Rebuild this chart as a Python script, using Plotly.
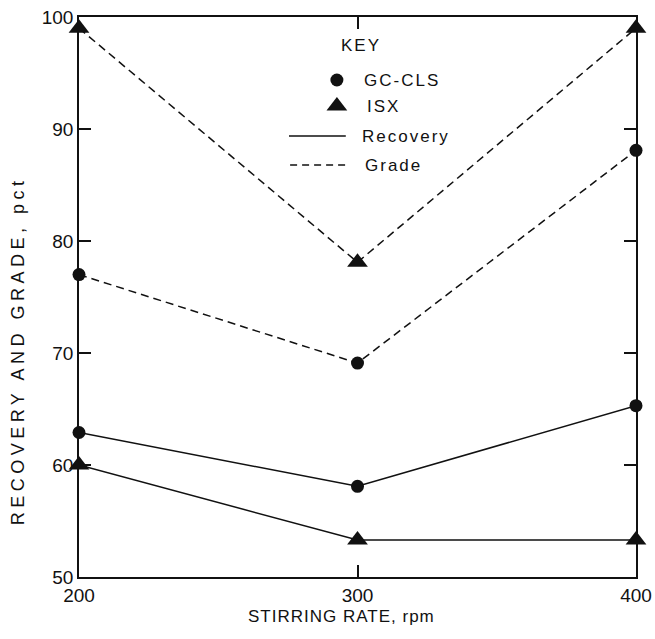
import plotly.graph_objects as go

# Stirring rate (rpm)
stirring_rate = [200, 300, 400]

# Recovery and grade, pct
gc_cls_recovery = [62.9, 58.1, 65.3]
gc_cls_grade = [77.0, 69.1, 88.1]
isx_recovery = [60.0, 53.3, 53.3]
isx_grade = [99.0, 78.1, 99.0]

x_ticks = [200, 300, 400]
y_ticks = [50, 60, 70, 80, 90, 100]

FONT = "Liberation Sans, Arial, Helvetica, sans-serif"
BLACK = "#111111"

fig = go.Figure()

series = [
    (gc_cls_grade, "circle", 13, "dash"),
    (isx_grade, "triangle-up", 18, "dash"),
    (gc_cls_recovery, "circle", 13, "solid"),
    (isx_recovery, "triangle-up", 18, "solid"),
]
for values, symbol, size, dash in series:
    fig.add_trace(go.Scatter(
        x=stirring_rate, y=values, mode="lines+markers",
        line=dict(color=BLACK, width=1.5, dash="8px,5px" if dash == "dash" else "solid"),
        marker=dict(symbol=symbol, size=size, color=BLACK),
        cliponaxis=False, showlegend=False, hoverinfo="skip",
    ))

# Key glyphs on an overlay axis spanning the plot area in [0, 1]
key_traces = [
    dict(x=[0.463], y=[0.8875], mode="markers",
         marker=dict(symbol="circle", size=13, color=BLACK)),
    dict(x=[0.463], y=[0.841], mode="markers",
         marker=dict(symbol="triangle-up", size=18, color=BLACK)),
    dict(x=[0.377, 0.479], y=[0.7875, 0.7875], mode="lines",
         line=dict(color=BLACK, width=1.5)),
    dict(x=[0.379, 0.479], y=[0.7357, 0.7357], mode="lines",
         line=dict(color=BLACK, width=1.5, dash="7px,5px")),
]
for kt in key_traces:
    fig.add_trace(go.Scatter(xaxis="x2", yaxis="y2", showlegend=False,
                             hoverinfo="skip", cliponaxis=False, **kt))

key_labels = [("GC-CLS", 0.8875), ("ISX", 0.841), ("Recovery", 0.7875), ("Grade", 0.7357)]
annotations = [dict(text="KEY", x=0.506, y=0.95, xref="paper", yref="paper",
                    showarrow=False, xanchor="center", yanchor="middle",
                    font=dict(family=FONT, size=17, color=BLACK))]
for label, fy in key_labels:
    annotations.append(dict(text=label, x=0.519, y=fy, xref="paper", yref="paper",
                            showarrow=False, xanchor="left", yanchor="middle",
                            font=dict(family=FONT, size=17, color=BLACK)))

# Axis titles
annotations.append(dict(text="STIRRING RATE, rpm", x=0.471, y=-0.071,
                        xref="paper", yref="paper", showarrow=False,
                        xanchor="center", yanchor="middle",
                        font=dict(family=FONT, size=17, color=BLACK)))
annotations.append(dict(text="RECOVERY AND GRADE, pct", x=-0.109, y=0.403,
                        xref="paper", yref="paper", showarrow=False, textangle=-90,
                        xanchor="center", yanchor="middle",
                        font=dict(family=FONT, size=18, color=BLACK)))

axis_common = dict(showgrid=False, zeroline=False, showline=True, linecolor=BLACK,
                   linewidth=1.5, ticks="inside", tickcolor=BLACK, tickwidth=1.5,
                   ticklen=12, mirror="ticks", automargin=False,
                   tickfont=dict(family=FONT, size=19, color=BLACK))

fig.update_layout(
    width=655, height=639,
    margin=dict(l=79, r=19, t=17, b=62),
    paper_bgcolor="white", plot_bgcolor="white",
    xaxis=dict(range=[200, 400], tickvals=x_ticks, **axis_common),
    yaxis=dict(range=[50, 100], tickvals=y_ticks, **axis_common),
    xaxis2=dict(overlaying="x", range=[0, 1], visible=False),
    yaxis2=dict(overlaying="y", range=[0, 1], visible=False),
    annotations=annotations,
)

# Wide letter spacing of the typeset labels
post = """
document.querySelectorAll('.annotation-text').forEach(function(t){
  var s = t.textContent;
  if (s.indexOf('RECOVERY') === 0) { t.style.letterSpacing = '4.5px'; }
  else if (s.indexOf('STIRRING') === 0) { t.style.letterSpacing = '1px'; }
  else { t.style.letterSpacing = '2px'; }
});
"""
fig.write_html("out.html", post_script=post)
